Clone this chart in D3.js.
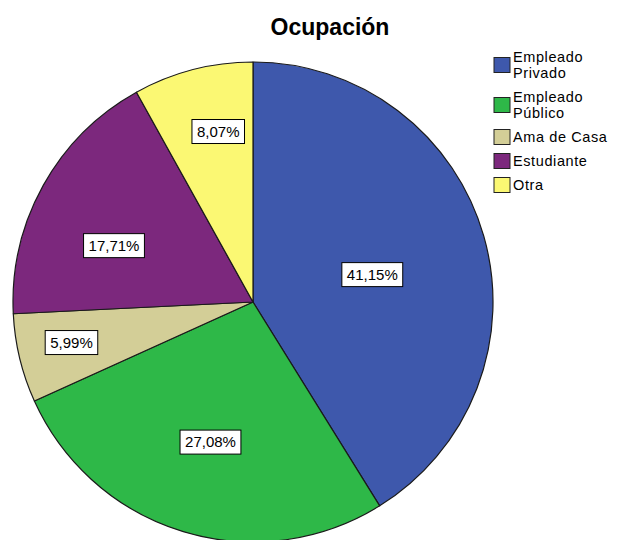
<!DOCTYPE html>
<html><head><meta charset="utf-8">
<script src="https://cdn.jsdelivr.net/npm/d3@7"></script>
<style>body{margin:0;background:#fff}svg{display:block}</style>
</head><body>
<svg id="c" width="627" height="540"></svg>
<script>
const categories = ["Empleado Privado", "Empleado Público", "Ama de Casa", "Estudiante", "Otra"];
const legendLines = [["Empleado", "Privado"], ["Empleado", "Público"], ["Ama de Casa"], ["Estudiante"], ["Otra"]];
const values = [41.15, 27.08, 5.99, 17.71, 8.07];
const valueLabels = ["41,15%", "27,08%", "5,99%", "17,71%", "8,07%"];
const colors = ["#3e58ac", "#2eb848", "#d3ce97", "#7c287d", "#fbf873"];
const title = "Ocupación";

// label placement tuning (style, not data)
const labelRadiusFrac = [0.51, 0.61, 0.775, 0.625, 0.725];
const labelAngleShift = [3, 0, 1, -7, 3];

const svg = d3.select("#c");
const cx = 253, cy = 302, R = 240;
const FONT = "Liberation Sans, Arial, sans-serif";

svg.append("text").attr("x", 330).attr("y", 35)
  .attr("text-anchor", "middle")
  .attr("font-family", FONT)
  .attr("font-weight", "bold").attr("font-size", 23)
  .attr("fill", "#000").text(title);

const pie = d3.pie().sort(null).value(d => d)(values);
const arc = d3.arc().innerRadius(0).outerRadius(R);
const g = svg.append("g").attr("transform", `translate(${cx},${cy})`);

g.selectAll("path.slice").data(pie).join("path")
  .attr("class", "slice")
  .attr("d", arc)
  .attr("fill", (d, i) => colors[i])
  .attr("stroke", "#1a1a1a").attr("stroke-width", 1.2)
  .attr("stroke-linejoin", "round");

const lab = g.selectAll("g.lab").data(pie).join("g").attr("class", "lab")
  .attr("transform", (d, i) => {
    const a = (d.startAngle + d.endAngle) / 2 + labelAngleShift[i] * Math.PI / 180;
    const r = R * labelRadiusFrac[i];
    return `translate(${r * Math.sin(a)},${-r * Math.cos(a)})`;
  });
lab.each(function(d, i) {
  const s = d3.select(this);
  const t = s.append("text")
    .attr("text-anchor", "middle").attr("dy", "0.36em")
    .attr("font-family", FONT)
    .attr("font-size", 15).attr("fill", "#000")
    .text(valueLabels[i]);
  const bb = t.node().getBBox();
  s.insert("rect", "text")
    .attr("x", bb.x - 5).attr("y", -12)
    .attr("width", bb.width + 10).attr("height", 24)
    .attr("fill", "#fff").attr("stroke", "#000").attr("stroke-width", 1);
});

// legend
const lg = svg.append("g").attr("transform", "translate(494,0)");
const lineH = 16, itemGap = 24;
let yc = 57; // center of first line
categories.forEach((c, i) => {
  const lines = legendLines[i];
  const mid = yc + (lines.length - 1) * lineH / 2;
  lg.append("rect").attr("x", 0).attr("y", mid - 7.5).attr("width", 16).attr("height", 15)
    .attr("fill", colors[i]).attr("stroke", "#222").attr("stroke-width", 1);
  lines.forEach((ln, j) => {
    lg.append("text").attr("x", 19).attr("y", yc + j * lineH)
      .attr("dy", "0.35em")
      .attr("font-family", FONT)
      .attr("font-size", 14.5).attr("letter-spacing", 0.6)
      .attr("fill", "#000").text(ln);
  });
  yc += (lines.length - 1) * lineH + itemGap;
});
</script>
</body></html>
